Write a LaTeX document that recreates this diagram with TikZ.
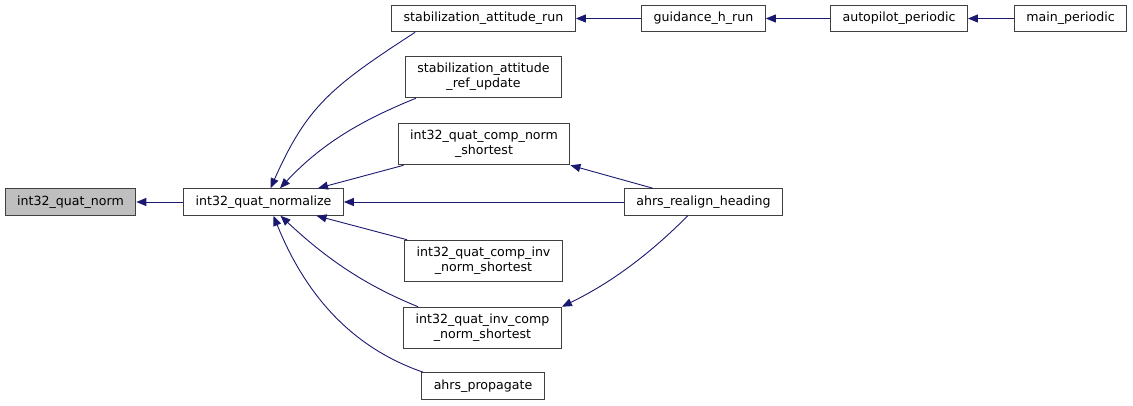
\documentclass[tikz,border=0pt]{standalone}
\usepackage{fontspec}
\setmainfont{DejaVu Sans}
\usetikzlibrary{arrows.meta}
\definecolor{callblue}{HTML}{191970}
\definecolor{curgray}{HTML}{BFBFBF}

\begin{document}
\begin{tikzpicture}[x=1pt, y=-1pt, >={Triangle[length=10pt,width=8pt]},
    font=\fontsize{12.6}{15}\selectfont,
    fn/.style={draw=black!75, fill=white, line width=1pt, inner xsep=12pt, inner ysep=7pt,
               minimum height=26pt, align=center},
    cur/.style={fn, fill=curgray},
    call/.style={->, draw=callblue, line width=0.9pt}]

    \useasboundingbox (0,0) rectangle (1133,405);

    \node[cur] (norm)      at (70.5,202)  {int32\_quat\_norm};
    \node[fn]  (normalize) at (263.5,202) {int32\_quat\_normalize};

    \node[fn] (sarun)  at (483.5,18.5) {stabilization\_attitude\_run};
    \node[fn] (refupd) at (483.5,77)   {stabilization\_attitude\\\_ref\_update};
    \node[fn] (cnorm)  at (484,144)    {int32\_quat\_comp\_norm\\\_shortest};
    \node[fn] (cinv)   at (483.5,261)  {int32\_quat\_comp\_inv\\\_norm\_shortest};
    \node[fn] (icomp)  at (482.5,328)  {int32\_quat\_inv\_comp\\\_norm\_shortest};
    \node[fn] (prop)   at (483,386)    {ahrs\_propagate};

    \node[fn] (guid)    at (703.5,18.5) {guidance\_h\_run};
    \node[fn] (realign) at (703.5,202)  {ahrs\_realign\_heading};
    \node[fn] (auto)    at (899,18.5)   {autopilot\_periodic};
    \node[fn] (mainp)   at (1070.5,18.5) {main\_periodic};

    \foreach \a/\b in {normalize/norm, realign/normalize, guid/sarun, auto/guid, mainp/auto}
        \draw[call] (\a) -- (\b);

    % callers of int32_quat_normalize
    \draw[call] ([xshift=24pt]sarun.south west) .. controls +(213:100pt) and +(66:90pt) .. ([xshift=7pt]normalize.north);
    \draw[call] ([xshift=11pt]refupd.south west) .. controls +(202:60pt) and +(47:60pt) .. ([xshift=16.5pt]normalize.north);
    \draw[call] ([xshift=6pt]cnorm.south west) -- ([xshift=54.5pt]normalize.north);
    \draw[call] ([xshift=3pt]cinv.north west) -- ([xshift=53pt]normalize.south);
    \draw[call] ([xshift=15pt]icomp.north west) .. controls +(158:60pt) and +(317:60pt) .. ([xshift=17pt]normalize.south);
    \draw[call] ([xshift=2pt]prop.north west) .. controls +(161:80pt) and +(292:80pt) .. ([xshift=10pt]normalize.south);

    % ahrs_realign_heading
    \draw[call] ([xshift=29pt]realign.north west) -- (cnorm.south east);
    \draw[call] ([xshift=64pt]realign.south west) .. controls +(225:55pt) and +(26:55pt) .. (icomp.north east);
\end{tikzpicture}
\end{document}
